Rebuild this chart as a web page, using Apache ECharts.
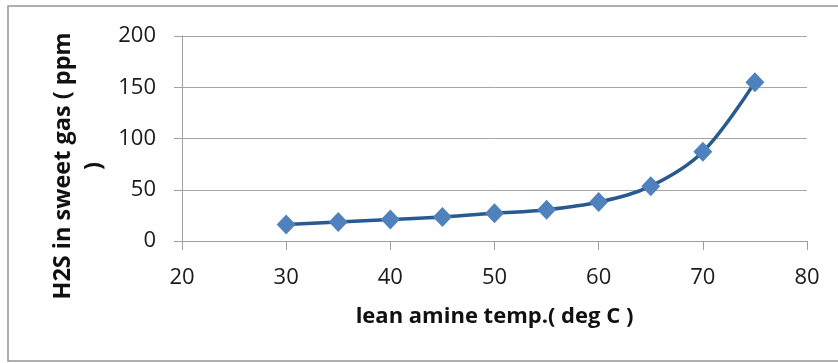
<!DOCTYPE html>
<html>
<head>
<meta charset="utf-8">
<script src="https://cdn.jsdelivr.net/npm/echarts@6/dist/echarts.min.js"></script>
<style>
  html, body { margin: 0; padding: 0; background: #fff; }
  #chart { width: 838px; height: 363px; }
</style>
</head>
<body>
<div id="chart"></div>
<script>
// Lean amine temperature (deg C) vs H2S remaining in sweet gas (ppm)
const temps = [30, 35, 40, 45, 50, 55, 60, 65, 70, 75];
const h2sPpm = [16, 18.5, 21, 23.5, 27, 30.5, 38, 53.5, 87, 155];
const xTicks = { min: 20, max: 80, step: 10 };
const yTicks = { min: 0, max: 200, step: 50 };
const xTitle = 'lean amine temp.( deg C )';
const yTitle = 'H2S in sweet gas ( ppm\n)';

const FONT = '"Open Sans", "Noto Sans", sans-serif';
const chart = echarts.init(document.getElementById('chart'), null, { renderer: 'canvas' });

chart.setOption({
  animation: false,
  backgroundColor: '#ffffff',
  grid: { left: 182, right: 31, top: 36, bottom: 122, containLabel: false },
  xAxis: {
    type: 'value',
    min: xTicks.min, max: xTicks.max, interval: xTicks.step,
    name: xTitle,
    nameLocation: 'middle',
    nameGap: 65,
    nameTextStyle: { fontFamily: FONT, fontWeight: 'bold', fontSize: 22, color: '#111' },
    axisLine: { show: true, lineStyle: { color: '#a0a0a0', width: 1 } },
    axisTick: { show: true, inside: false, length: 9, lineStyle: { color: '#a0a0a0' } },
    axisLabel: { fontFamily: FONT, fontSize: 22, color: '#1a1a1a', margin: 26 },
    splitLine: { show: false }
  },
  yAxis: {
    type: 'value',
    min: yTicks.min, max: yTicks.max, interval: yTicks.step,
    axisLine: { show: true, lineStyle: { color: '#a0a0a0', width: 1 } },
    axisTick: { show: true, inside: false, length: 8, lineStyle: { color: '#a0a0a0' } },
    axisLabel: { fontFamily: FONT, fontSize: 22, color: '#1a1a1a', margin: 26 },
    splitLine: { show: true, lineStyle: { color: '#a6a6a6', width: 1 } }
  },
  graphic: [
    {
      type: 'rect',
      shape: { x: 8, y: 6, width: 860, height: 355 },
      style: { fill: null, stroke: '#959595', lineWidth: 1.5 },
      silent: true
    },
    {
      type: 'text',
      x: 79, y: 166,
      rotation: Math.PI / 2,
      style: {
        text: yTitle,
        fontFamily: FONT, fontWeight: 'bold', fontSize: 23.5,
        lineHeight: 31,
        fill: '#111',
        align: 'center', verticalAlign: 'middle'
      }
    }
  ],
  series: [{
    type: 'line',
    data: temps.map((t, i) => [t, h2sPpm[i]]),
    smooth: 0.35,
    symbol: 'diamond',
    symbolSize: [19, 20],
    lineStyle: { color: '#285a8f', width: 3.5 },
    itemStyle: { color: '#4f81bd' },
    z: 3
  }]
});
</script>
</body>
</html>
